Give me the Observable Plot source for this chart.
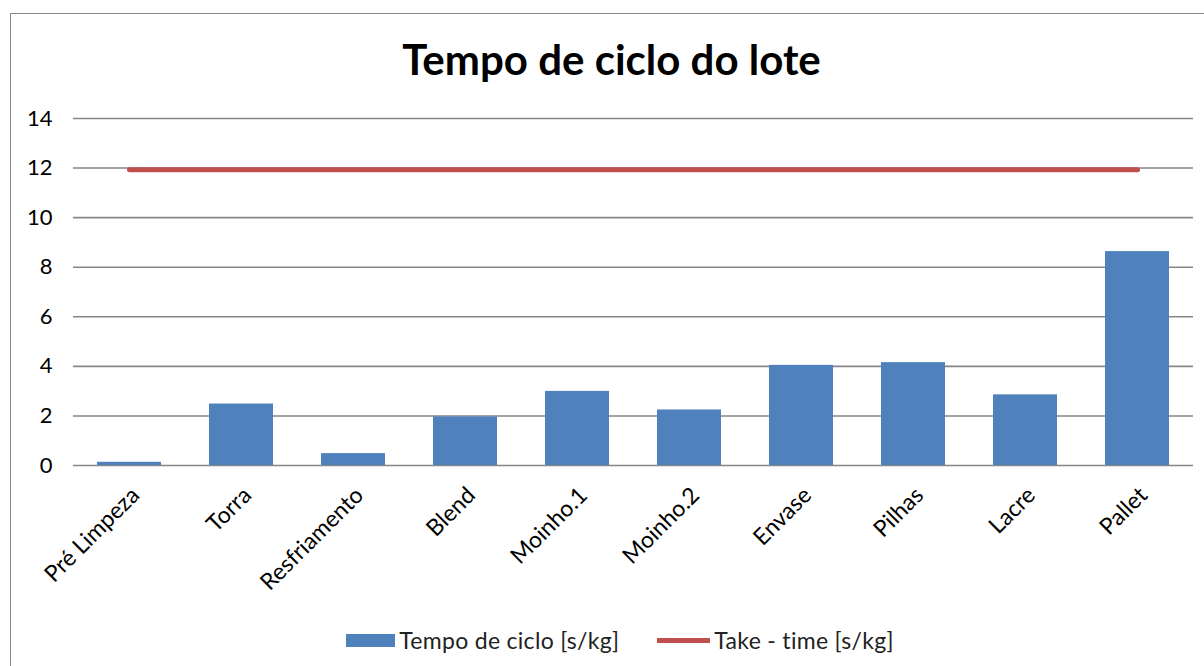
<!DOCTYPE html>
<html>
<head>
<meta charset="utf-8">
<script src="https://cdn.jsdelivr.net/npm/d3@7"></script>
<script src="https://cdn.jsdelivr.net/npm/@observablehq/plot@0.6"></script>
<style>
  html, body { margin: 0; padding: 0; background: #fff; }
  body { width: 1204px; height: 666px; position: relative; overflow: hidden; font-family: Lato, "Open Sans", sans-serif; }
  #frame { position: absolute; left: 10px; top: 13px; width: 1210px; height: 680px; border: 1.5px solid #8a8a8a; box-sizing: border-box; }
  #title { position: absolute; left: 0; width: 1223px; top: 34px; text-align: center; font-weight: 700; font-size: 42px; color: #000; line-height: normal; }
  #chart { position: absolute; left: 0; top: 100px; }
  #legend { position: absolute; top: 626px; left: 0; width: 1240px; display: flex; justify-content: center; align-items: center; font-size: 23px; letter-spacing: 0.3px; color: #222; }
  .item { display: flex; align-items: center; margin: 0 19px; }
  .sw { display: inline-block; margin-right: 4px; }
</style>
</head>
<body>
<div id="frame"></div>
<div id="title"></div>
<div id="chart"></div>
<div id="legend"></div>
<script>
const chartTitle = "Tempo de ciclo do lote";
const categories = ["Pré Limpeza", "Torra", "Resfriamento", "Blend", "Moinho.1", "Moinho.2", "Envase", "Pilhas", "Lacre", "Pallet"];
const cycleTimes = [0.13, 2.48, 0.48, 1.96, 2.99, 2.24, 4.04, 4.15, 2.85, 8.63];
const taktTimes = [11.93, 11.93, 11.93, 11.93, 11.93, 11.93, 11.93, 11.93, 11.93, 11.93];
const seriesNames = ["Tempo de ciclo [s/kg]", "Take - time [s/kg]"];
const seriesColors = ["#4F81BD", "#C0504D"];
const yTicks = [0, 2, 4, 6, 8, 10, 12, 14];

const data = categories.map((c, i) => ({cat: c, cycle: cycleTimes[i], takt: taktTimes[i]}));

document.getElementById("title").textContent = chartTitle;

const chart = Plot.plot({
  width: 1204,
  height: 500,
  marginLeft: 73,
  marginRight: 11,
  marginTop: 18,
  marginBottom: 135,
  style: {fontFamily: "Lato, 'Open Sans', sans-serif", color: "#000", background: "transparent"},
  x: {domain: categories, paddingInner: 0.43, paddingOuter: 0.215, label: null},
  y: {domain: [0, 14], label: null},
  marks: [
    Plot.gridY(yTicks, {stroke: "#868686", strokeOpacity: 1, strokeWidth: 1.6}),
    Plot.barY(data, {x: "cat", y: "cycle", fill: seriesColors[0]}),
    Plot.lineY(data, {x: "cat", y: "takt", stroke: seriesColors[1], strokeWidth: 5}),
    Plot.axisY(yTicks, {tickSize: 0, tickPadding: 21, fontSize: 22, label: null, tickFormat: d => String(d)}),
    Plot.axisX({tickSize: 0, tickPadding: 26, tickRotate: -45, fontSize: 23, label: null, dx: 6})
  ]
});
document.getElementById("chart").appendChild(chart);

const legend = document.getElementById("legend");
seriesNames.forEach((name, i) => {
  const item = document.createElement("div");
  item.className = "item";
  const sw = document.createElement("span");
  sw.className = "sw";
  if (i === 0) { sw.style.width = "49px"; sw.style.height = "13px"; }
  else { sw.style.width = "53px"; sw.style.height = "5px"; }
  sw.style.background = seriesColors[i];
  const t = document.createElement("span");
  t.textContent = name;
  item.appendChild(sw);
  item.appendChild(t);
  legend.appendChild(item);
});
</script>
</body>
</html>
